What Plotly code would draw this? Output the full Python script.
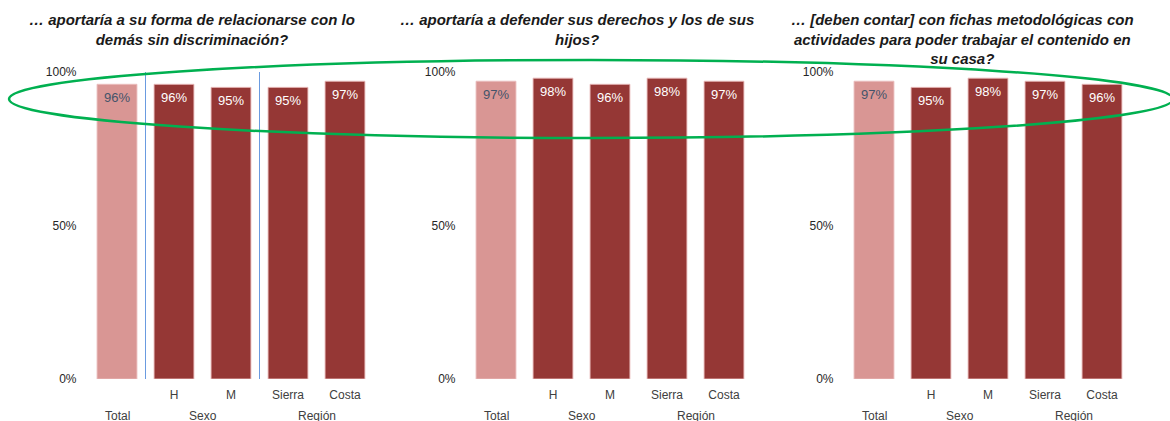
import plotly.graph_objects as go

W, H = 1170, 421

categories = ["Total", "H", "M", "Sierra", "Costa"]
tick_labels = ["", "H", "M", "Sierra", "Costa"]
groups = ["Total", "Sexo", "Región"]
group_pos = [0, 1.5, 3.5]
y_ticks = [0, 50, 100]
y_tick_labels = ["0%", "50%", "100%"]

titles = [
    "… aportaría a su forma de relacionarse con lo<br>demás sin discriminación?",
    "… aportaría a defender sus derechos y los de sus<br>hijos?",
    "… [deben contar] con fichas metodológicas con<br>actividades para poder trabajar el contenido en<br>su casa?",
]
relaciones = [96, 96, 95, 95, 97]
derechos = [97, 98, 96, 98, 97]
fichas = [97, 95, 98, 97, 96]
series = [relaciones, derechos, fichas]

COL_TOTAL = "#D99694"
COL_BAR = "#953735"
TXT_TOTAL = "#44546A"
FONT = "Liberation Sans, Arial"

# panel layout in pixels
x_domains_px = [(88.5, 373.5), (467.5, 752.5), (845.5, 1130.5)]
title_x_px = [192, 577, 962]
y_bottom_px, y_top_px = 379, 72

fig = go.Figure()
annotations = []
shapes = []

for i, vals in enumerate(series):
    ax = "" if i == 0 else str(i + 1)
    colors = [COL_TOTAL] + [COL_BAR] * (len(vals) - 1)
    tcolors = [TXT_TOTAL] + ["white"] * (len(vals) - 1)
    fig.add_trace(go.Bar(
        x=categories, y=vals,
        xaxis="x" + ax, yaxis="y" + ax,
        marker=dict(color=colors, line=dict(color="rgba(235,190,190,0.9)", width=1)),
        showlegend=False, hoverinfo="skip",
    ))
    # value labels just inside the top of each bar
    for c, v, tc in zip(categories, vals, tcolors):
        annotations.append(dict(
            x=c, xref="x" + ax, y=v, yref="y" + ax, yshift=-13,
            text=f"{v}%", showarrow=False, xanchor="center", yanchor="middle",
            font=dict(family=FONT, size=13, color=tc),
        ))
    x0, x1 = x_domains_px[i]
    fig.update_layout({
        f"xaxis{ax}": dict(
            domain=[x0 / W, x1 / W], anchor="y" + ax, automargin=False,
            range=[-0.5, 4.5], type="category",
            tickmode="array", tickvals=categories, ticktext=tick_labels,
            showline=False, showgrid=False, zeroline=False, ticks="",
            ticklabelstandoff=7,
            tickfont=dict(family=FONT, size=12, color="#404040"),
        ),
        f"yaxis{ax}": dict(
            domain=[(H - y_bottom_px) / H, (H - y_top_px) / H], anchor="x" + ax,
            automargin=False,
            range=[0, 100], tickmode="array", tickvals=y_ticks, ticktext=y_tick_labels,
            showline=False, showgrid=False, zeroline=False, ticks="",
            ticklabelstandoff=11,
            tickfont=dict(family=FONT, size=12, color="#262626"),
        ),
    })
    for g, p in zip(groups, group_pos):
        annotations.append(dict(
            x=p, xref="x" + ax, y=(H - 416) / H, yref="paper",
            text=g, showarrow=False, yanchor="middle", xanchor="center",
            font=dict(family=FONT, size=12, color="#404040"),
        ))
    annotations.append(dict(
        x=title_x_px[i] / W, xref="paper", y=(H - 9) / H, yref="paper",
        text=f"<b><i>{titles[i]}</i></b>", showarrow=False,
        xanchor="center", yanchor="top", align="center",
        font=dict(family=FONT, size=15, color="#1a1a1a"),
    ))

# separators between groups in the first panel
for xs in [0.5, 2.5]:
    shapes.append(dict(
        type="line", xref="x", yref="y", x0=xs, x1=xs, y0=0, y1=102,
        line=dict(color="#6A9BE0", width=1), layer="above",
    ))

# highlight ellipse across the top of all panels
shapes.append(dict(
    type="circle", xref="paper", yref="paper",
    x0=9 / W, x1=1173 / W, y0=(H - 138) / H, y1=(H - 60) / H,
    line=dict(color="#00B050", width=2.5), layer="above",
))

fig.update_layout(
    width=W, height=H,
    margin=dict(l=0, r=0, t=0, b=0),
    paper_bgcolor="white", plot_bgcolor="white",
    bargap=0.3,
    annotations=annotations, shapes=shapes,
    font=dict(family=FONT),
)

fig.write_html("out.html")
